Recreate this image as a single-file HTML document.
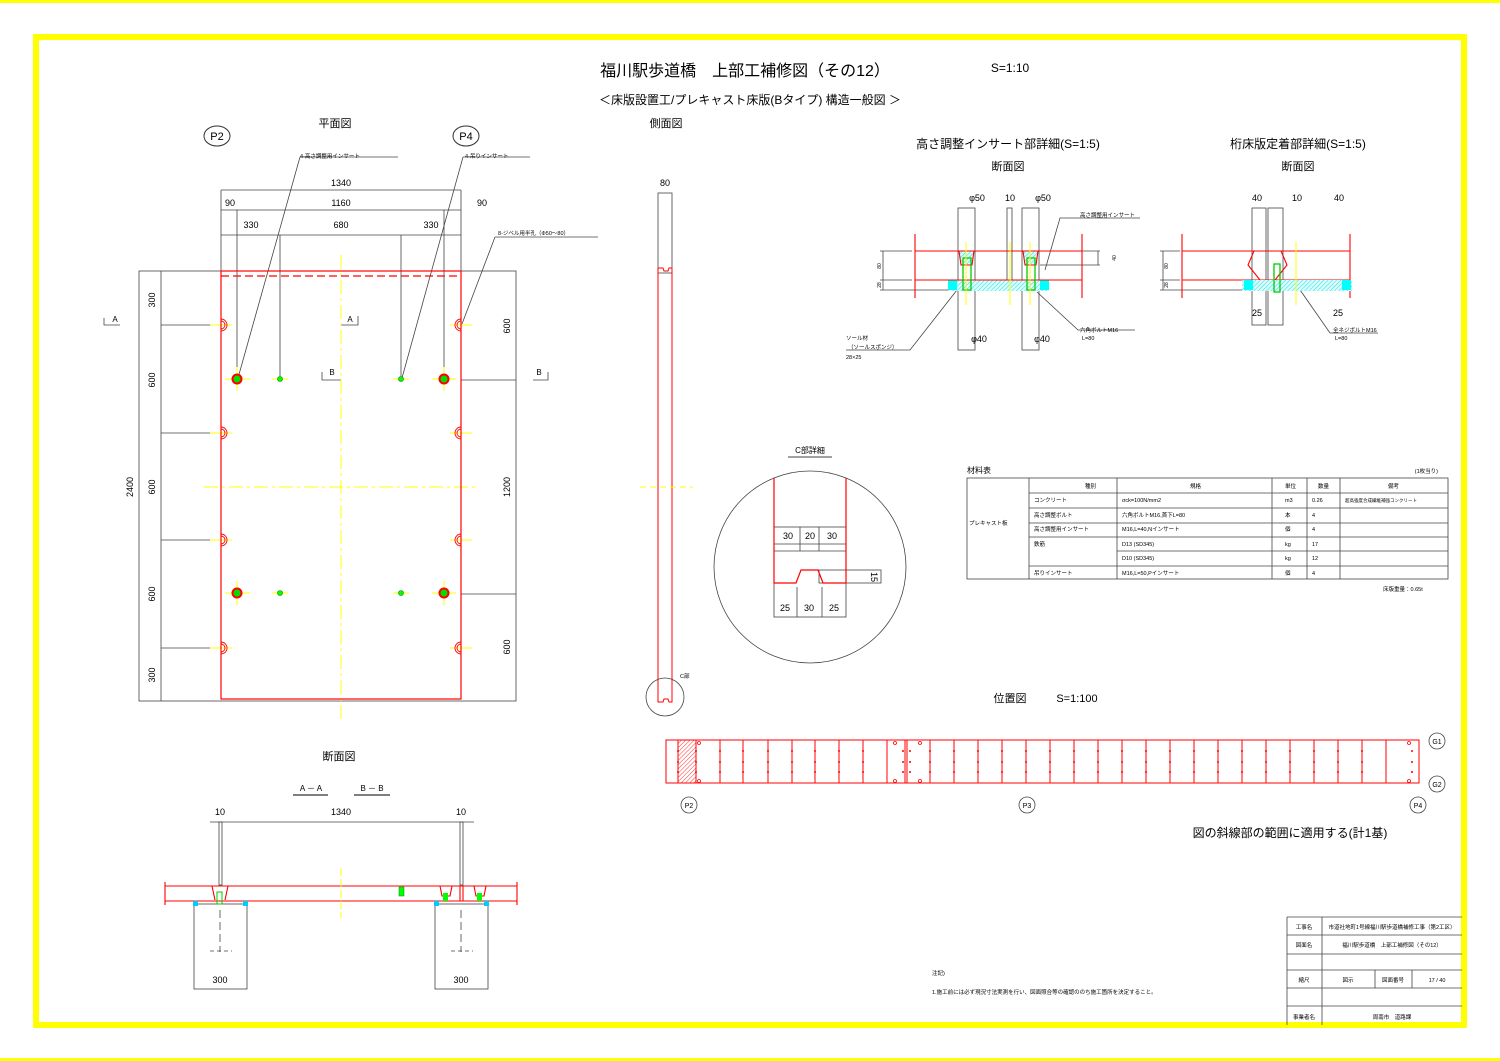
<!DOCTYPE html>
<html><head><meta charset="utf-8"><style>
html,body{margin:0;padding:0;background:#fff}
svg{display:block;font-family:"Liberation Sans","Noto Sans CJK JP",sans-serif}
</style></head><body>
<svg width="1500" height="1061" viewBox="0 0 1500 1061" xmlns="http://www.w3.org/2000/svg">
<defs>
<pattern id="hc" width="3" height="3" patternUnits="userSpaceOnUse" patternTransform="rotate(45)"><rect width="3" height="3" fill="#d8ffff"/><line x1="0" y1="0" x2="0" y2="3" stroke="#0cc" stroke-width="0.8"/></pattern>
<pattern id="hr" width="3" height="3" patternUnits="userSpaceOnUse" patternTransform="rotate(45)"><line x1="0" y1="0" x2="0" y2="3" stroke="#f00" stroke-width="0.8"/></pattern>
</defs>
<rect x="0" y="0" width="1500" height="3" fill="#ff0"/>
<rect x="0" y="1058" width="1500" height="3" fill="#ff0"/>
<rect x="36" y="37" width="1428" height="988" fill="none" stroke="#ff0" stroke-width="6"/>

<!-- titles -->
<text x="745" y="76" font-size="16" text-anchor="middle">福川駅歩道橋　上部工補修図（その12）</text>
<text x="1010" y="72" font-size="12" text-anchor="middle">S=1:10</text>
<text x="750" y="104" font-size="12" text-anchor="middle">＜床版設置工/プレキャスト床版(Bタイプ) 構造一般図 ＞</text>
<text x="335" y="127" font-size="11" text-anchor="middle">平面図</text>
<text x="666" y="127" font-size="11" text-anchor="middle">側面図</text>

<g stroke="#333" fill="none" stroke-width="1">
<ellipse cx="217" cy="136" rx="13" ry="10"/><ellipse cx="466" cy="136" rx="13" ry="10"/>
</g>
<text x="217" y="140" font-size="11" text-anchor="middle">P2</text>
<text x="466" y="140" font-size="11" text-anchor="middle">P4</text>

<!-- plan view -->
<g stroke="#444" stroke-width="0.8" fill="none">
<rect x="139" y="271" width="377" height="430"/>
<line x1="161" y1="271" x2="161" y2="701"/>
<line x1="221" y1="190" x2="461" y2="190"/>
<line x1="221" y1="210" x2="461" y2="210"/>
<line x1="221" y1="235" x2="461" y2="235"/>
<line x1="221" y1="190" x2="221" y2="271"/><line x1="461" y1="190" x2="461" y2="271"/>
<line x1="237" y1="210" x2="237" y2="379"/><line x1="444" y1="210" x2="444" y2="379"/>
<line x1="280" y1="235" x2="280" y2="379"/><line x1="401" y1="235" x2="401" y2="379"/>
<line x1="161" y1="325" x2="221" y2="325"/><line x1="161" y1="433" x2="221" y2="433"/>
<line x1="161" y1="540" x2="221" y2="540"/><line x1="161" y1="648" x2="221" y2="648"/>
<line x1="461" y1="380" x2="516" y2="380"/><line x1="461" y1="594" x2="516" y2="594"/>
<polyline points="300,157 398,157"/><polyline points="300,157 238,378"/>
<polyline points="463,157 530,157"/><polyline points="463,157 402,378"/>
<polyline points="495,237 598,237"/><polyline points="495,237 462,324"/>
<polyline points="341,325 358,325 358,316"/><polyline points="341,380 322,380 322,372"/>
<polyline points="104,318 104,325 120,325"/><polyline points="548,372 548,380 533,380"/>
</g>
<g font-size="9" text-anchor="middle">
<text x="341" y="186">1340</text><text x="230" y="206">90</text><text x="341" y="206">1160</text><text x="482" y="206">90</text>
<text x="251" y="228">330</text><text x="341" y="228">680</text><text x="431" y="228">330</text>
<text x="115" y="322" font-size="8">A</text><text x="350" y="322" font-size="8">A</text>
<text x="332" y="375" font-size="8">B</text><text x="539" y="375" font-size="8">B</text>
</g>
<g font-size="5.5"><text x="300" y="158">4-高さ調整用インサート</text><text x="465" y="158">4-吊りインサート</text><text x="498" y="235">8-ジベル用半孔（Φ50～80）</text></g>
<g font-size="9" text-anchor="middle">
<text transform="translate(155,300) rotate(-90)">300</text><text transform="translate(155,380) rotate(-90)">600</text>
<text transform="translate(155,487) rotate(-90)">600</text><text transform="translate(155,594) rotate(-90)">600</text>
<text transform="translate(155,675) rotate(-90)">300</text><text transform="translate(133,487) rotate(-90)">2400</text>
<text transform="translate(510,326) rotate(-90)">600</text><text transform="translate(510,487) rotate(-90)">1200</text>
<text transform="translate(510,647) rotate(-90)">600</text>
</g>
<g stroke="#ff0" stroke-width="1" stroke-dasharray="14,4,3,4" fill="none">
<line x1="341" y1="255" x2="341" y2="720"/><line x1="204" y1="487" x2="478" y2="487"/>
</g>
<g stroke="#ff0" stroke-width="1">
<line x1="225" y1="379" x2="250" y2="379"/><line x1="237" y1="367" x2="237" y2="391"/>
<line x1="432" y1="379" x2="456" y2="379"/><line x1="444" y1="367" x2="444" y2="391"/>
<line x1="225" y1="593" x2="250" y2="593"/><line x1="237" y1="581" x2="237" y2="605"/>
<line x1="432" y1="593" x2="456" y2="593"/><line x1="444" y1="581" x2="444" y2="605"/>
<line x1="272" y1="379" x2="288" y2="379"/><line x1="393" y1="379" x2="409" y2="379"/>
<line x1="272" y1="593" x2="288" y2="593"/><line x1="393" y1="593" x2="409" y2="593"/>
<line x1="210" y1="325" x2="232" y2="325"/><line x1="210" y1="433" x2="232" y2="433"/><line x1="210" y1="540" x2="232" y2="540"/><line x1="210" y1="648" x2="232" y2="648"/>
<line x1="450" y1="325" x2="472" y2="325"/><line x1="450" y1="433" x2="472" y2="433"/><line x1="450" y1="540" x2="472" y2="540"/><line x1="450" y1="648" x2="472" y2="648"/>
</g>
<g stroke="#f00" fill="none" stroke-width="1.2">
<rect x="221" y="271" width="240" height="428"/>
<line x1="221" y1="276" x2="461" y2="276" stroke-dasharray="8,4"/>
</g>
<g stroke="#f00" fill="none" stroke-width="0.9">
<path d="M221,319 a6,6 0 0 1 0,12 M221,321 a4,4 0 0 1 0,8"/><path d="M221,427 a6,6 0 0 1 0,12 M221,429 a4,4 0 0 1 0,8"/>
<path d="M221,534 a6,6 0 0 1 0,12 M221,536 a4,4 0 0 1 0,8"/><path d="M221,642 a6,6 0 0 1 0,12 M221,644 a4,4 0 0 1 0,8"/>
<path d="M461,319 a6,6 0 0 0 0,12 M461,321 a4,4 0 0 0 0,8"/><path d="M461,427 a6,6 0 0 0 0,12 M461,429 a4,4 0 0 0 0,8"/>
<path d="M461,534 a6,6 0 0 0 0,12 M461,536 a4,4 0 0 0 0,8"/><path d="M461,642 a6,6 0 0 0 0,12 M461,644 a4,4 0 0 0 0,8"/>
</g>
<g>
<circle cx="237" cy="379" r="4.5" fill="#0d0" stroke="#f00" stroke-width="2"/><circle cx="444" cy="379" r="4.5" fill="#0d0" stroke="#f00" stroke-width="2"/>
<circle cx="237" cy="593" r="4.5" fill="#0d0" stroke="#f00" stroke-width="2"/><circle cx="444" cy="593" r="4.5" fill="#0d0" stroke="#f00" stroke-width="2"/>
<circle cx="280" cy="379" r="2.5" fill="#0f0" stroke="#080" stroke-width="0.6"/><circle cx="401" cy="379" r="2.5" fill="#0f0" stroke="#080" stroke-width="0.6"/>
<circle cx="280" cy="593" r="2.5" fill="#0f0" stroke="#080" stroke-width="0.6"/><circle cx="401" cy="593" r="2.5" fill="#0f0" stroke="#080" stroke-width="0.6"/>
</g>

<!-- side view -->
<text x="665" y="186" font-size="9" text-anchor="middle">80</text>
<rect x="658" y="193" width="14" height="80" fill="none" stroke="#444" stroke-width="0.8"/>
<path d="M658,702 V268 H663 l1,3 h4 l1,-3 H672 V702 H669 l-1,-3 h-4 l-1,3 Z" fill="none" stroke="#f00" stroke-width="1"/>
<line x1="640" y1="487" x2="693" y2="487" stroke="#ff0" stroke-dasharray="6,4"/>
<circle cx="665" cy="697" r="19" fill="none" stroke="#444" stroke-width="0.8"/>
<text x="680" y="678" font-size="5.5">C部</text>

<!-- C detail -->
<text x="810" y="453" font-size="8" text-anchor="middle">C部詳細</text>
<line x1="788" y1="457" x2="832" y2="457" stroke="#444"/>
<circle cx="810" cy="567" r="96" fill="none" stroke="#444" stroke-width="0.8"/>
<g stroke="#444" stroke-width="0.8" fill="none">
<rect x="774" y="527" width="72" height="90"/>
<line x1="800" y1="527" x2="800" y2="551"/><line x1="819" y1="527" x2="819" y2="551"/>
<line x1="774" y1="544" x2="846" y2="544"/><line x1="774" y1="551" x2="846" y2="551"/>
<line x1="797" y1="587" x2="797" y2="617"/><line x1="822" y1="587" x2="822" y2="617"/>
<rect x="819" y="570" width="62" height="13"/>
</g>
<path d="M774,478 V583 H796 L801,570 H818 L823,583 H846 V478" fill="none" stroke="#f00" stroke-width="1.2"/>
<g font-size="9" text-anchor="middle"><text x="788" y="539">30</text><text x="810" y="539">20</text><text x="832" y="539">30</text>
<text x="785" y="611">25</text><text x="809" y="611">30</text><text x="834" y="611">25</text>
<text transform="translate(871,577) rotate(90)">15</text></g>

<!-- detail 1 -->
<text x="1008" y="148" font-size="12" text-anchor="middle">高さ調整インサート部詳細(S=1:5)</text>
<text x="1008" y="170" font-size="11" text-anchor="middle">断面図</text>
<text x="1298" y="148" font-size="12" text-anchor="middle">桁床版定着部詳細(S=1:5)</text>
<text x="1298" y="170" font-size="11" text-anchor="middle">断面図</text>
<g font-size="9" text-anchor="middle"><text x="977" y="201">φ50</text><text x="1010" y="201">10</text><text x="1043" y="201">φ50</text>
<text x="979" y="342">φ40</text><text x="1042" y="342">φ40</text>
<text x="1257" y="201">40</text><text x="1297" y="201">10</text><text x="1339" y="201">40</text>
<text x="1257" y="316">25</text><text x="1338" y="316">25</text></g>
<g stroke="#444" stroke-width="0.8" fill="none">
<rect x="958" y="208" width="17" height="142"/><rect x="1007" y="208" width="5" height="72"/><rect x="1022" y="208" width="17" height="142"/>
<line x1="880" y1="251" x2="912" y2="251"/><line x1="880" y1="280" x2="912" y2="280"/><line x1="880" y1="290" x2="950" y2="290"/>
<line x1="883" y1="251" x2="883" y2="290"/>
<line x1="1040" y1="265" x2="1100" y2="265"/><line x1="1098" y1="251" x2="1098" y2="265"/><line x1="1082" y1="251" x2="1100" y2="251"/>
<polyline points="1045,270 1060,218 1140,218"/><polyline points="1037,292 1078,330 1135,330"/>
<polyline points="957,290 910,350 846,350"/>
<rect x="1252" y="208" width="14" height="117"/><rect x="1268" y="208" width="15" height="117"/>
<line x1="1160" y1="251" x2="1180" y2="251"/><line x1="1160" y1="280" x2="1180" y2="280"/><line x1="1160" y1="290" x2="1242" y2="290"/>
<line x1="1163" y1="251" x2="1163" y2="290"/>
<polyline points="1298,287 1330,333 1378,333"/>
</g>
<rect x="948" y="280" width="101" height="11" fill="url(#hc)"/>
<rect x="948" y="280" width="9" height="10" fill="#0ff"/><rect x="1040" y="280" width="9" height="10" fill="#0ff"/>
<path d="M959,251 H974 L972,265 H961 Z" fill="url(#hc)"/><path d="M1023,251 H1038 L1036,265 H1025 Z" fill="url(#hc)"/>
<g stroke="#f00" fill="none" stroke-width="1.1">
<line x1="915" y1="251" x2="1082" y2="251"/><line x1="915" y1="280" x2="1082" y2="280"/>
<line x1="915" y1="234" x2="915" y2="298"/><line x1="1082" y1="234" x2="1082" y2="298"/>
<path d="M959,251 L961,265 H972 L974,251 M1023,251 L1025,265 H1036 L1038,251"/>
<line x1="1182" y1="251" x2="1350" y2="251"/><line x1="1182" y1="280" x2="1350" y2="280"/>
<line x1="1182" y1="234" x2="1182" y2="298"/><line x1="1350" y1="234" x2="1350" y2="298"/>
<path d="M1254,251 L1248,265 L1260,280 M1281,251 L1287,265 L1275,280"/>
</g>
<rect x="1242" y="280" width="110" height="11" fill="url(#hc)"/>
<rect x="1244" y="280" width="9" height="10" fill="#0ff"/><rect x="1342" y="280" width="9" height="10" fill="#0ff"/>
<g stroke="#0c0" fill="none" stroke-width="1.3">
<rect x="963" y="258" width="8" height="32"/><rect x="1027" y="258" width="8" height="32"/><rect x="1274" y="264" width="6" height="28"/>
</g>
<g stroke="#ff0" stroke-width="1"><line x1="966" y1="242" x2="966" y2="305"/><line x1="1030" y1="242" x2="1030" y2="305"/><line x1="1010" y1="242" x2="1010" y2="305"/><line x1="1296" y1="242" x2="1296" y2="305"/></g>
<g font-size="5.5"><text x="1080" y="217">高さ調整用インサート</text><text x="1080" y="332">六角ボルトM16</text><text x="1082" y="340">L=80</text>
<text x="846" y="340">ソール材</text><text x="848" y="349">（ソールスポンジ）</text><text x="846" y="359">28×25</text>
<text x="1333" y="332">全ネジボルトM16</text><text x="1335" y="340">L=80</text></g>
<g font-size="5" text-anchor="middle"><text transform="translate(881,266) rotate(-90)">80</text><text transform="translate(881,285) rotate(-90)">28</text><text transform="translate(1116,258) rotate(-90)">40</text>
<text transform="translate(1168,266) rotate(-90)">80</text><text transform="translate(1168,285) rotate(-90)">28</text></g>

<!-- table -->
<text x="967" y="473" font-size="8">材料表</text><text x="1438" y="473" font-size="5.5" text-anchor="end">(1枚当り)</text>
<g stroke="#444" stroke-width="0.8" fill="none">
<rect x="967" y="478" width="481" height="101"/>
<line x1="1029" y1="478" x2="1029" y2="579"/><line x1="1117" y1="478" x2="1117" y2="579"/><line x1="1272" y1="478" x2="1272" y2="579"/>
<line x1="1307" y1="478" x2="1307" y2="579"/><line x1="1340" y1="478" x2="1340" y2="579"/>
<line x1="1029" y1="493" x2="1448" y2="493"/><line x1="1029" y1="508" x2="1448" y2="508"/><line x1="1029" y1="523" x2="1448" y2="523"/>
<line x1="1029" y1="537" x2="1448" y2="537"/><line x1="1117" y1="551" x2="1448" y2="551"/><line x1="1029" y1="566" x2="1448" y2="566"/>
</g>
<g font-size="5.5">
<text x="1085" y="488">種別</text><text x="1190" y="488">規格</text><text x="1285" y="488">単位</text><text x="1318" y="488">数量</text><text x="1388" y="488">備考</text>
<text x="969" y="525">プレキャスト板</text>
<text x="1034" y="502">コンクリート</text><text x="1122" y="502">σck=100N/mm2</text><text x="1285" y="502">m3</text><text x="1312" y="502">0.26</text><text x="1345" y="502" font-size="4.5">超高強度合成繊維補強コンクリート</text>
<text x="1034" y="517">高さ調整ボルト</text><text x="1122" y="517">六角ボルトM16,首下L=80</text><text x="1285" y="517">本</text><text x="1312" y="517">4</text>
<text x="1034" y="531">高さ調整用インサート</text><text x="1122" y="531">M16,L=40,Nインサート</text><text x="1285" y="531">個</text><text x="1312" y="531">4</text>
<text x="1034" y="546">鉄筋</text><text x="1122" y="546">D13 (SD345)</text><text x="1285" y="546">kg</text><text x="1312" y="546">17</text>
<text x="1122" y="560">D10 (SD345)</text><text x="1285" y="560">kg</text><text x="1312" y="560">12</text>
<text x="1034" y="575">吊りインサート</text><text x="1122" y="575">M16,L=50,Pインサート</text><text x="1285" y="575">個</text><text x="1312" y="575">4</text>
<text x="1383" y="591">床版重量：0.65t</text>
</g>

<!-- location map -->
<text x="1010" y="702" font-size="11" text-anchor="middle">位置図</text><text x="1077" y="702" font-size="11" text-anchor="middle">S=1:100</text>
<rect x="678" y="740" width="18" height="43" fill="url(#hr)"/>
<g stroke="#f00" stroke-width="1" fill="none">
<rect x="666" y="740" width="753" height="43"/>
<line x1="678" y1="740" x2="678" y2="783"/><line x1="696" y1="740" x2="696" y2="783"/><line x1="720" y1="740" x2="720" y2="783"/>
<line x1="743" y1="740" x2="743" y2="783"/><line x1="768" y1="740" x2="768" y2="783"/><line x1="792" y1="740" x2="792" y2="783"/>
<line x1="815" y1="740" x2="815" y2="783"/><line x1="839" y1="740" x2="839" y2="783"/><line x1="863" y1="740" x2="863" y2="783"/>
<line x1="887" y1="740" x2="887" y2="783"/><line x1="905" y1="740" x2="905" y2="783"/><line x1="907" y1="740" x2="907" y2="783"/>
<line x1="930" y1="740" x2="930" y2="783"/><line x1="954" y1="740" x2="954" y2="783"/><line x1="978" y1="740" x2="978" y2="783"/>
<line x1="1002" y1="740" x2="1002" y2="783"/><line x1="1026" y1="740" x2="1026" y2="783"/><line x1="1050" y1="740" x2="1050" y2="783"/>
<line x1="1074" y1="740" x2="1074" y2="783"/><line x1="1098" y1="740" x2="1098" y2="783"/><line x1="1122" y1="740" x2="1122" y2="783"/>
<line x1="1146" y1="740" x2="1146" y2="783"/>
<line x1="1170" y1="740" x2="1170" y2="783"/><line x1="1194" y1="740" x2="1194" y2="783"/><line x1="1218" y1="740" x2="1218" y2="783"/>
<line x1="1242" y1="740" x2="1242" y2="783"/><line x1="1266" y1="740" x2="1266" y2="783"/><line x1="1290" y1="740" x2="1290" y2="783"/>
<line x1="1314" y1="740" x2="1314" y2="783"/><line x1="1338" y1="740" x2="1338" y2="783"/><line x1="1362" y1="740" x2="1362" y2="783"/>
<line x1="1386" y1="740" x2="1386" y2="783"/>
</g>
<g fill="#f00">
<circle cx="678" cy="751" r="1"/><circle cx="678" cy="762" r="1"/><circle cx="678" cy="772" r="1"/>
<circle cx="696" cy="751" r="1"/><circle cx="696" cy="762" r="1"/><circle cx="696" cy="772" r="1"/>
<circle cx="720" cy="751" r="1"/><circle cx="720" cy="762" r="1"/><circle cx="720" cy="772" r="1"/>
<circle cx="743" cy="751" r="1"/><circle cx="743" cy="762" r="1"/><circle cx="743" cy="772" r="1"/>
<circle cx="768" cy="751" r="1"/><circle cx="768" cy="762" r="1"/><circle cx="768" cy="772" r="1"/>
<circle cx="792" cy="751" r="1"/><circle cx="792" cy="762" r="1"/><circle cx="792" cy="772" r="1"/>
<circle cx="815" cy="751" r="1"/><circle cx="815" cy="762" r="1"/><circle cx="815" cy="772" r="1"/>
<circle cx="839" cy="751" r="1"/><circle cx="839" cy="762" r="1"/><circle cx="839" cy="772" r="1"/>
<circle cx="863" cy="751" r="1"/><circle cx="863" cy="762" r="1"/><circle cx="863" cy="772" r="1"/>
<circle cx="903" cy="751" r="1"/><circle cx="903" cy="762" r="1"/><circle cx="903" cy="772" r="1"/>
<circle cx="910" cy="751" r="1"/><circle cx="910" cy="762" r="1"/><circle cx="910" cy="772" r="1"/>
<circle cx="930" cy="751" r="1"/><circle cx="930" cy="762" r="1"/><circle cx="930" cy="772" r="1"/>
<circle cx="954" cy="751" r="1"/><circle cx="954" cy="762" r="1"/><circle cx="954" cy="772" r="1"/>
<circle cx="978" cy="751" r="1"/><circle cx="978" cy="762" r="1"/><circle cx="978" cy="772" r="1"/>
<circle cx="1002" cy="751" r="1"/><circle cx="1002" cy="762" r="1"/><circle cx="1002" cy="772" r="1"/>
<circle cx="1026" cy="751" r="1"/><circle cx="1026" cy="762" r="1"/><circle cx="1026" cy="772" r="1"/>
<circle cx="1050" cy="751" r="1"/><circle cx="1050" cy="762" r="1"/><circle cx="1050" cy="772" r="1"/>
<circle cx="1074" cy="751" r="1"/><circle cx="1074" cy="762" r="1"/><circle cx="1074" cy="772" r="1"/>
<circle cx="1098" cy="751" r="1"/><circle cx="1098" cy="762" r="1"/><circle cx="1098" cy="772" r="1"/>
<circle cx="1122" cy="751" r="1"/><circle cx="1122" cy="762" r="1"/><circle cx="1122" cy="772" r="1"/>
<circle cx="1146" cy="751" r="1"/><circle cx="1146" cy="762" r="1"/><circle cx="1146" cy="772" r="1"/>
<circle cx="1170" cy="751" r="1"/><circle cx="1170" cy="762" r="1"/><circle cx="1170" cy="772" r="1"/>
<circle cx="1194" cy="751" r="1"/><circle cx="1194" cy="762" r="1"/><circle cx="1194" cy="772" r="1"/>
<circle cx="1218" cy="751" r="1"/><circle cx="1218" cy="762" r="1"/><circle cx="1218" cy="772" r="1"/>
<circle cx="1242" cy="751" r="1"/><circle cx="1242" cy="762" r="1"/><circle cx="1242" cy="772" r="1"/>
<circle cx="1266" cy="751" r="1"/><circle cx="1266" cy="762" r="1"/><circle cx="1266" cy="772" r="1"/>
<circle cx="1290" cy="751" r="1"/><circle cx="1290" cy="762" r="1"/><circle cx="1290" cy="772" r="1"/>
<circle cx="1314" cy="751" r="1"/><circle cx="1314" cy="762" r="1"/><circle cx="1314" cy="772" r="1"/>
<circle cx="1338" cy="751" r="1"/><circle cx="1338" cy="762" r="1"/><circle cx="1338" cy="772" r="1"/>
<circle cx="1362" cy="751" r="1"/><circle cx="1362" cy="762" r="1"/><circle cx="1362" cy="772" r="1"/>
<circle cx="1412" cy="751" r="1"/><circle cx="1412" cy="762" r="1"/><circle cx="1412" cy="772" r="1"/>
</g>
<g stroke="#f00" fill="none" stroke-width="0.8">
<circle cx="699" cy="743" r="1.5"/><circle cx="699" cy="781" r="1.5"/><circle cx="895" cy="743" r="1.5"/><circle cx="895" cy="781" r="1.5"/>
<circle cx="920" cy="743" r="1.5"/><circle cx="920" cy="781" r="1.5"/><circle cx="1409" cy="743" r="1.5"/><circle cx="1409" cy="781" r="1.5"/>
</g>
<g stroke="#444" fill="none" stroke-width="0.8">
<circle cx="689" cy="805" r="8"/><circle cx="1027" cy="805" r="8"/><circle cx="1418" cy="805" r="8"/>
<circle cx="1437" cy="741" r="8"/><circle cx="1437" cy="784" r="8"/>
</g>
<g font-size="7" text-anchor="middle"><text x="689" y="808">P2</text><text x="1027" y="808">P3</text><text x="1418" y="808">P4</text><text x="1437" y="744">G1</text><text x="1437" y="787">G2</text></g>
<text x="1290" y="837" font-size="12" text-anchor="middle">図の斜線部の範囲に適用する(計1基)</text>

<!-- section -->
<text x="339" y="760" font-size="11" text-anchor="middle">断面図</text>
<text x="311" y="791" font-size="8" text-anchor="middle">A － A</text><text x="372" y="791" font-size="8" text-anchor="middle">B － B</text>
<line x1="293" y1="795" x2="328" y2="795" stroke="#555" stroke-width="1.5"/><line x1="354" y1="795" x2="390" y2="795" stroke="#555" stroke-width="1.5"/>
<g font-size="9" text-anchor="middle"><text x="220" y="815">10</text><text x="341" y="815">1340</text><text x="461" y="815">10</text>
<text x="220" y="983">300</text><text x="461" y="983">300</text></g>
<g stroke="#444" stroke-width="0.8" fill="none">
<line x1="210" y1="822" x2="474" y2="822"/>
<rect x="219" y="822" width="3" height="63"/><rect x="460" y="822" width="3" height="63"/>
<rect x="194" y="904" width="53" height="85"/><rect x="435" y="904" width="53" height="85"/>
<line x1="220" y1="910" x2="220" y2="952" stroke-dasharray="8,4"/><line x1="461" y1="910" x2="461" y2="952" stroke-dasharray="8,4"/>
<line x1="210" y1="951" x2="232" y2="951" stroke-dasharray="4,3"/><line x1="451" y1="951" x2="473" y2="951" stroke-dasharray="4,3"/>
</g>
<g stroke="#f00" stroke-width="1.1" fill="none">
<line x1="165" y1="886" x2="517" y2="886"/><line x1="165" y1="901" x2="517" y2="901"/>
<path d="M165,882 V905 M517,882 V905"/>
<path d="M212,886 L215,900 M228,886 L225,900 M440,886 L442,896 H450 L452,886 M474,886 L476,896 H484 L486,886 M460,886 V901 M463,886 V901"/>
</g>
<line x1="341" y1="868" x2="341" y2="918" stroke="#ff0" stroke-dasharray="8,3"/>
<rect x="217" y="892" width="5" height="12" fill="none" stroke="#0c0"/>
<rect x="399" y="887" width="5" height="9" fill="#0f0" stroke="#080" stroke-width="0.5"/>
<rect x="443" y="893" width="5" height="8" fill="#0f0"/><rect x="477" y="893" width="5" height="8" fill="#0f0"/>
<rect x="193" y="901" width="5" height="5" fill="#0cf"/><rect x="243" y="901" width="5" height="5" fill="#0cf"/>
<rect x="434" y="901" width="5" height="5" fill="#0cf"/><rect x="484" y="901" width="5" height="5" fill="#0cf"/>

<!-- notes -->
<text x="932" y="975" font-size="5.5">注記)</text>
<text x="932" y="994" font-size="5.5">1.施工前には必ず現況寸法実測を行い、図面照合等の確認ののち施工箇所を決定すること。</text>

<!-- title block -->
<g stroke="#444" stroke-width="0.8" fill="none">
<line x1="1287" y1="917" x2="1287" y2="1025"/><line x1="1287" y1="917" x2="1462" y2="917"/>
<line x1="1322" y1="917" x2="1322" y2="1025"/>
<line x1="1287" y1="935" x2="1462" y2="935"/><line x1="1287" y1="954" x2="1462" y2="954"/><line x1="1287" y1="970" x2="1462" y2="970"/>
<line x1="1287" y1="988" x2="1462" y2="988"/><line x1="1287" y1="1006" x2="1462" y2="1006"/>
<line x1="1375" y1="970" x2="1375" y2="988"/><line x1="1412" y1="970" x2="1412" y2="988"/>
</g>
<g font-size="5.5" text-anchor="middle">
<text x="1304" y="929">工事名</text><text x="1392" y="929">市道社地町1号線福川駅歩道橋補修工事（第2工区）</text>
<text x="1304" y="947">図面名</text><text x="1392" y="947">福川駅歩道橋　上部工補修図（その12）</text>
<text x="1304" y="982">縮尺</text><text x="1348" y="982">図示</text><text x="1393" y="982">図面番号</text><text x="1437" y="982">17 / 40</text>
<text x="1304" y="1019">事業者名</text><text x="1392" y="1019">周南市　道路課</text>
</g>
</svg>
</body></html>
